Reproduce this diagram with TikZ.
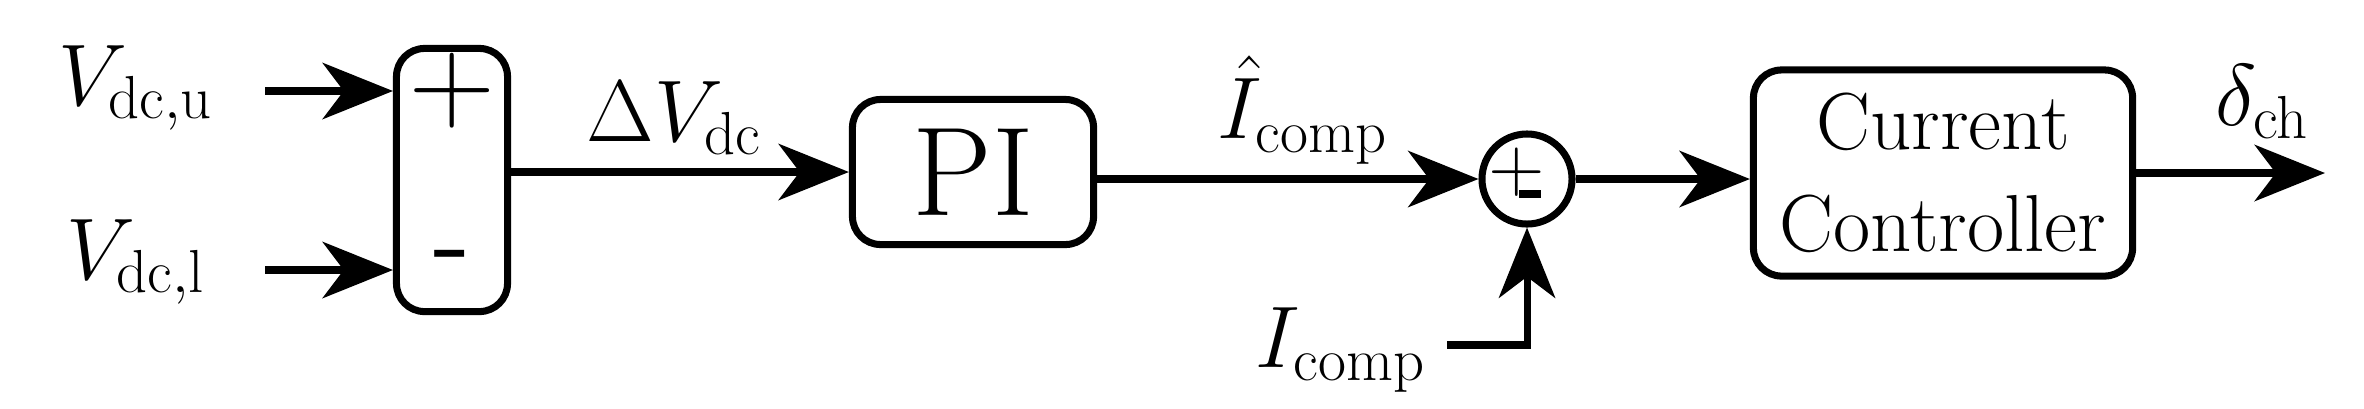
\documentclass[tikz,border=0pt]{standalone}
\usetikzlibrary{arrows.meta}
\begin{document}
\begin{tikzpicture}[x=0.01cm,y=-0.01cm,
  blk/.style={draw,line width=2pt,rounded corners=8pt,inner sep=0pt,align=center},
  conn/.style={line width=2pt,-{Stealth[length=20pt,width=16pt,inset=6pt]}},
  lbl/.style={font=\fontsize{27}{32}\selectfont,inner sep=0pt}]
\useasboundingbox (0,0) rectangle (2364,408);
\node[blk,minimum width=1.11cm,minimum height=2.63cm] (sum) at (452,180) {};
\node[font=\fontsize{34}{40}\selectfont\sffamily] at (452,91) {+};
\node[font=\fontsize{34}{40}\selectfont\sffamily] at (452,265) {-};
\node[blk,minimum width=2.41cm,minimum height=1.45cm,font=\fontsize{36}{42}\selectfont] (pi) at (973,172) {PI};
\node[draw,circle,line width=2pt,minimum size=0.9cm,inner sep=0pt] (c) at (1527,179) {};
\node[font=\fontsize{22}{26}\selectfont\sffamily,inner sep=0pt] at (1517,172) {+};
\node[inner sep=0pt] at (1530,194) {\rule{0.22cm}{2pt}};
\node[blk,minimum width=3.79cm,minimum height=2.06cm,font=\fontsize{23}{29}\selectfont] (cc) at (1943,173) {Current\\Controller};
\node[lbl] (vu) at (136,88) {$V_{\mathrm{dc,u}}$};
\node[lbl] (vl) at (136,262) {$V_{\mathrm{dc,l}}$};
\coordinate (au) at (265,91);
\coordinate (al) at (265,270);
\draw[conn] (au) -- (au -| sum.west);
\draw[conn] (al) -- (al -| sum.west);
\draw[conn] (sum.east |- pi.west) -- (pi.west);
\node[lbl] at (674,118) {$\Delta V_{\mathrm{dc}}$};
\draw[conn] (pi.east |- c.west) -- (c.west);
\node[lbl] at (1303,110) {$\hat{I}_{\mathrm{comp}}$};
\draw[conn] (c.east) -- (c.east -| cc.west);
\coordinate (out) at (2325,173);
\draw[conn] (cc.east) -- (out);
\node[lbl] at (2262,102) {$\delta_{\mathrm{ch}}$};
\node[lbl] (ic) at (1341,350) {$I_{\mathrm{comp}}$};
\coordinate (ib) at (1447,345);
\draw[conn] (ib) -- (c.south |- ib) -- (c.south);
\end{tikzpicture}
\end{document}
